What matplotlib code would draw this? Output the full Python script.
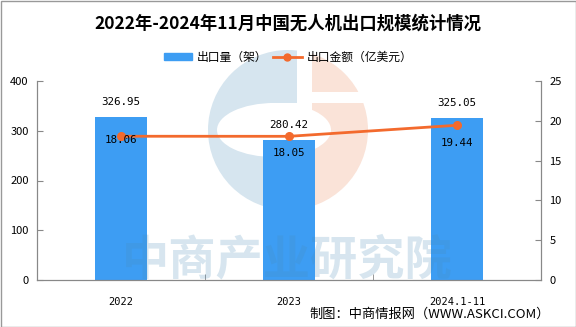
import matplotlib.pyplot as plt
from matplotlib.patches import Circle, Ellipse, Rectangle
from matplotlib.lines import Line2D
from matplotlib.patches import Patch

plt.rcParams['font.family'] = ['Noto Sans CJK SC', 'DejaVu Sans']

# data
years = ["2022", "2023", "2024.1-11"]
volume = [326.95, 280.42, 325.05]      # 出口量（架）
amount = [18.06, 18.05, 19.44]         # 出口金额（亿美元）
amount_label_dy = [-3, -12, -13]       # label offsets (pt)

bar_color = "#3D9DF3"
line_color = "#F36A2D"
axis_gray = "#888888"

fig = plt.figure(figsize=(5.76, 3.27), dpi=100)

# watermark logo layer (behind), pixel coordinates
bg = fig.add_axes([0, 0, 1, 1], zorder=0)
bg.set_xlim(0, 576)
bg.set_ylim(327, 0)
bg.axis('off')
cx, cy, r = 288, 130, 80
blue_c = Circle((cx, cy), r, color="#D6E5EF", lw=0)
bg.add_patch(blue_c)
blue_c.set_clip_path(Rectangle((0, 0), 297, 327, transform=bg.transData))
orange_c = Circle((cx, cy), r, color="#FAE3D8", lw=0)
bg.add_patch(orange_c)
orange_c.set_clip_path(Rectangle((312, 0), 300, 327, transform=bg.transData))
bg.add_patch(Ellipse((274, 130), 114, 54, color="white", lw=0))
bg.add_patch(Rectangle((270, 103), 30, 54, color="white", lw=0))
bg.add_patch(Rectangle((300, 92), 80, 11, color="white", lw=0))
bg.add_patch(Rectangle((263, 152), 34, 53, color="#D6E5EF", lw=0))
bg.add_patch(Rectangle((0.5, 0.5), 575, 326, fill=False, ec="#999999", lw=1))

ax = fig.add_axes([37 / 576, 47 / 327, 504 / 576, 199 / 327], zorder=1)
ax.patch.set_alpha(0)
x = list(range(len(years)))
bars = ax.bar(x, volume, width=0.31, color=bar_color, zorder=2)
ax.set_xlim(-0.5, 2.5)
ax.set_ylim(0, 400)
ax.set_yticks([0, 100, 200, 300, 400])
ax.set_xticks(x)
ax.set_xticklabels(years, fontsize=7.5, family='DejaVu Sans Mono')
ax.set_xticks([0.5, 1.5], minor=True)
ax.tick_params(axis='x', which='major', length=0, pad=12)
ax.tick_params(axis='x', which='minor', direction='in', length=4, color=axis_gray)
ax.tick_params(axis='y', direction='in', length=4, color=axis_gray, labelsize=8, pad=6)
ax.spines['top'].set_visible(False)
for s in ['left', 'bottom', 'right']:
    ax.spines[s].set_color(axis_gray)

for b, v in zip(bars, volume):
    ax.annotate(f"{v:.2f}", (b.get_x() + b.get_width() / 2, v), xytext=(0, 11),
                textcoords='offset points', ha='center', va='center',
                fontsize=7.8, family='DejaVu Sans Mono')

ax2 = ax.twinx()
ax2.plot(x, amount, color=line_color, lw=2, marker='o', ms=5.5, zorder=3)
ax2.set_ylim(0, 25)
ax2.set_yticks([0, 5, 10, 15, 20, 25])
ax2.tick_params(axis='y', direction='in', length=4, color=axis_gray, labelsize=8, pad=6)
ax2.spines['top'].set_visible(False)
for s in ['left', 'bottom', 'right']:
    ax2.spines[s].set_color(axis_gray)
for xi, v, dy in zip(x, amount, amount_label_dy):
    ax2.annotate(f"{v:.2f}", (xi, v), xytext=(0, dy), textcoords='offset points',
                 ha='center', va='center', fontsize=7.8, family='DejaVu Sans Mono')

# watermark text on top, translucent
fig.text(287 / 576, 1 - 260 / 327, "中商产业研究院", fontsize=34, fontweight='bold',
         color="#4A8DB8", alpha=0.22, ha='center', va='center', zorder=5)

fig.text(0.5, 1 - 24 / 327, "2022年-2024年11月中国无人机出口规模统计情况",
         ha='center', va='center', fontsize=12.5, fontweight='bold')

handles = [Patch(color=bar_color),
           Line2D([], [], color=line_color, lw=2, marker='o', ms=5)]
fig.legend(handles, ["出口量（架）", "出口金额（亿美元）"], loc='center',
           bbox_to_anchor=(0.5, 1 - 57 / 327), ncol=2, frameon=False, fontsize=8.5,
           handlelength=2.4, handleheight=0.6, columnspacing=0.5, handletextpad=0.4)

fig.text(550 / 576, 1 - 314 / 327, "制图：中商情报网（WWW.ASKCI.COM）",
         ha='right', va='center', fontsize=9.5)

fig.savefig("out.png", dpi=100)
